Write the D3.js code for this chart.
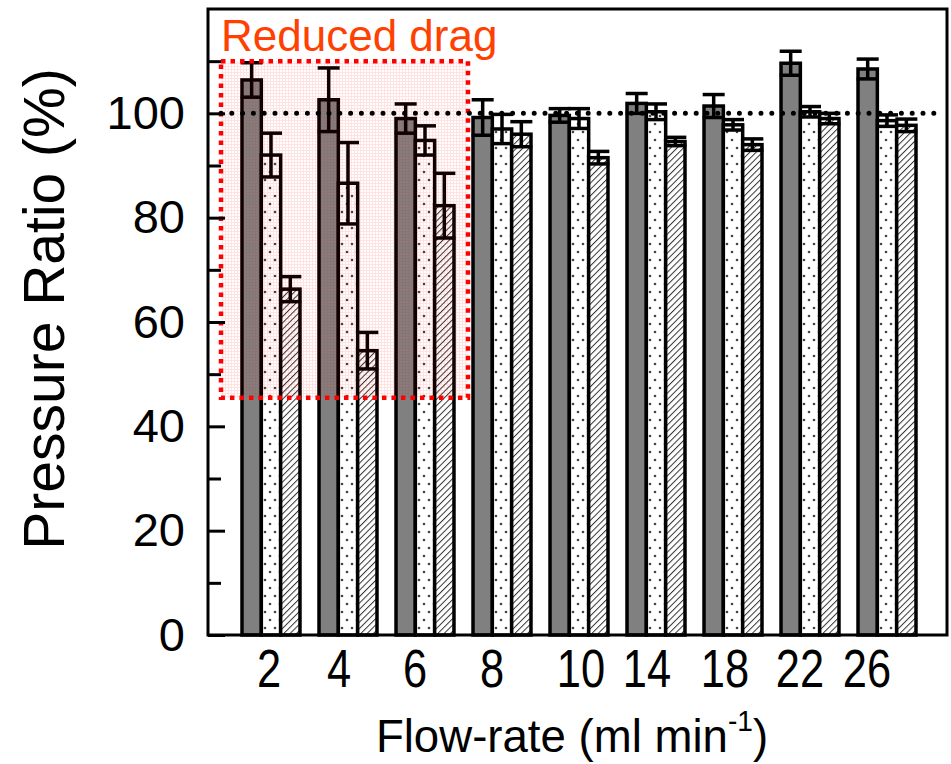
<!DOCTYPE html>
<html>
<head>
<meta charset="utf-8">
<script src="https://cdn.jsdelivr.net/npm/d3@7"></script>
<style>
body { margin: 0; background: #fff; }
text { font-family: "Liberation Sans", Arial, sans-serif; }
</style>
</head>
<body>
<div id="chart"></div>
<script>
// DATA

// Flow-rate categories on the x axis
var flowRates = ["2", "4", "6", "8", "10", "14", "18", "22", "26"];
// Three series per flow-rate (grey, dotted, hatched)
var seriesKeys = ["s1", "s2", "s3"];
var s1Values = [106.4, 102.6, 99.0, 99.2, 99.6, 101.9, 101.4, 109.6, 108.5];
var s1Errors = [3.3, 6.1, 2.8, 3.4, 1.3, 1.9, 2.2, 2.3, 1.9];
var s2Values = [92.0, 86.6, 94.8, 97.0, 99.0, 100.3, 97.8, 100.3, 98.6];
var s2Errors = [4.2, 7.8, 2.8, 2.8, 1.9, 1.5, 1.0, 1.0, 1.1];
var s3Values = [66.3, 54.5, 82.3, 96.0, 91.5, 94.6, 94.0, 99.0, 97.7];
var s3Errors = [2.4, 3.5, 6.2, 2.4, 1.2, 0.8, 1.1, 1.0, 1.2];
// Axis ticks
var yMajorTicks = [0, 20, 40, 60, 80, 100];
var yMinorTicks = [10, 30, 50, 70, 90, 110];
var yDomain = [0, 120];
// Reference line and shaded region
var referenceValue = 100;
var regionTop = 110;
var regionBottom = 45.5;
var regionLabel = "Reduced drag";
// Titles
var yTitle = "Pressure Ratio (%)";
var xTitle = "Flow-rate (ml min";
var xTitleSup = "-1";

// LAYOUT

var width = 951;
var height = 764;
var frame = { left: 208, right: 947, top: 9, bottom: 635 };
// small horizontal nudges of the x tick labels, as placed in the figure
var xLabelNudge = [-2, -9, -10, -10, 2, -9, -8, -10, -20];

var svg = d3
    .select("#chart")
    .append("svg")
    .attr("width", width)
    .attr("height", height);

// Fill patterns
var defs = svg.append("defs");
var dots = defs.append("pattern")
    .attr("id", "dots")
    .attr("patternUnits", "userSpaceOnUse")
    .attr("width", 10)
    .attr("height", 16);
dots.append("rect").attr("width", 10).attr("height", 16).attr("fill", "#fff");
dots.append("circle").attr("cx", 3).attr("cy", 4).attr("r", 1.3).attr("fill", "#444");
dots.append("circle").attr("cx", 8).attr("cy", 12).attr("r", 1.3).attr("fill", "#444");

var hatch = defs.append("pattern")
    .attr("id", "hatch")
    .attr("patternUnits", "userSpaceOnUse")
    .attr("width", 4.5)
    .attr("height", 4.5)
    .attr("patternTransform", "rotate(45)");
hatch.append("rect").attr("width", 4.5).attr("height", 4.5).attr("fill", "#fff");
hatch.append("line")
    .attr("x1", 0).attr("y1", 0).attr("x2", 0).attr("y2", 4.5)
    .attr("stroke", "#333").attr("stroke-width", 2);

var pinkGrid = defs.append("pattern")
    .attr("id", "pinkGrid")
    .attr("patternUnits", "userSpaceOnUse")
    .attr("width", 3)
    .attr("height", 3);
pinkGrid.append("rect").attr("width", 3).attr("height", 1).attr("fill", "rgba(255,0,0,0.11)");
pinkGrid.append("rect").attr("y", 1).attr("width", 1).attr("height", 2).attr("fill", "rgba(255,0,0,0.11)");

var seriesFill = { s1: "#808080", s2: "url(#dots)", s3: "url(#hatch)" };

// SCALES

var x0 = d3.scaleBand()
    .domain(flowRates)
    .range([242, 916])
    .paddingInner(0.247)
    .paddingOuter(0);
var x1 = d3.scaleBand()
    .domain(seriesKeys)
    .range([0, x0.bandwidth()])
    .padding(0);
var y = d3.scaleLinear()
    .domain(yDomain)
    .range([frame.bottom, frame.top]);

// table of bars built from the arrays
var valueArrays = { s1: s1Values, s2: s2Values, s3: s3Values };
var errorArrays = { s1: s1Errors, s2: s2Errors, s3: s3Errors };
var table = flowRates.map(function(rate, i) {
    return {
        rate: rate,
        bars: seriesKeys.map(function(k) {
            return { key: k, value: valueArrays[k][i], err: errorArrays[k][i] };
        })
    };
});

// BARS

var groups = svg.selectAll("g.group")
    .data(table)
    .enter()
    .append("g")
    .attr("class", "group")
    .attr("transform", function(d) { return "translate(" + x0(d.rate) + ",0)"; });

groups.selectAll("rect")
    .data(function(d) { return d.bars; })
    .enter()
    .append("rect")
    .attr("x", function(d) { return x1(d.key); })
    .attr("y", function(d) { return y(d.value); })
    .attr("width", x1.bandwidth())
    .attr("height", function(d) { return y(0) - y(d.value); })
    .attr("fill", function(d) { return seriesFill[d.key]; })
    .attr("stroke", "#000")
    .attr("stroke-width", 3.5);

// Error bars
var capW = 22;
var errs = groups.selectAll("g.err")
    .data(function(d) { return d.bars; })
    .enter()
    .append("g")
    .attr("class", "err")
    .attr("stroke", "#000")
    .attr("stroke-width", 3.5);
errs.append("line")
    .attr("x1", function(d) { return x1(d.key) + x1.bandwidth() / 2; })
    .attr("x2", function(d) { return x1(d.key) + x1.bandwidth() / 2; })
    .attr("y1", function(d) { return y(d.value + d.err); })
    .attr("y2", function(d) { return y(d.value - d.err); });
errs.append("line")
    .attr("x1", function(d) { return x1(d.key) + x1.bandwidth() / 2 - capW / 2; })
    .attr("x2", function(d) { return x1(d.key) + x1.bandwidth() / 2 + capW / 2; })
    .attr("y1", function(d) { return y(d.value + d.err); })
    .attr("y2", function(d) { return y(d.value + d.err); });
errs.append("line")
    .attr("x1", function(d) { return x1(d.key) + x1.bandwidth() / 2 - capW / 2; })
    .attr("x2", function(d) { return x1(d.key) + x1.bandwidth() / 2 + capW / 2; })
    .attr("y1", function(d) { return y(d.value - d.err); })
    .attr("y2", function(d) { return y(d.value - d.err); });

// REDUCED DRAG REGION

var regionX0 = x0(flowRates[0]) - 21;
var regionX1 = x0(flowRates[2]) + x0.bandwidth() + 14;
svg.append("rect")
    .attr("x", regionX0)
    .attr("y", y(regionTop))
    .attr("width", regionX1 - regionX0)
    .attr("height", y(regionBottom) - y(regionTop))
    .attr("fill", "url(#pinkGrid)")
    .attr("stroke", "#ff0000")
    .attr("stroke-width", 4.5)
    .attr("stroke-dasharray", "4.5,5");

svg.append("text")
    .attr("x", regionX0)
    .attr("y", 51)
    .attr("font-size", 44)
    .attr("fill", "#ff4000")
    .text(regionLabel);

// Reference line at 100 %
svg.append("line")
    .attr("x1", 221)
    .attr("x2", 938)
    .attr("y1", y(referenceValue))
    .attr("y2", y(referenceValue))
    .attr("stroke", "#000")
    .attr("stroke-width", 5)
    .attr("stroke-linecap", "round")
    .attr("stroke-dasharray", "0,10.8");

// AXES

var yAxis = d3.axisLeft(y)
    .tickValues(yMajorTicks)
    .tickSize(-17)
    .tickPadding(23)
    .tickFormat(d3.format("d"));
var yAxisG = svg.append("g")
    .attr("transform", "translate(" + frame.left + ",0)")
    .call(yAxis);
yAxisG.select(".domain").remove();
yAxisG.selectAll("line").attr("stroke-width", 3);
yAxisG.selectAll("text")
    .attr("font-size", 47)
    .attr("font-family", "Liberation Sans, Arial, sans-serif")
    .attr("fill", "#000");

var yMinor = d3.axisLeft(y)
    .tickValues(yMinorTicks)
    .tickSize(-13)
    .tickFormat("");
var yMinorG = svg.append("g")
    .attr("transform", "translate(" + frame.left + ",0)")
    .call(yMinor);
yMinorG.select(".domain").remove();
yMinorG.selectAll("line").attr("stroke-width", 3);

var xAxis = d3.axisBottom(x0)
    .tickSize(0)
    .tickPadding(14);
var xAxisG = svg.append("g")
    .attr("transform", "translate(0," + frame.bottom + ")")
    .call(xAxis);
xAxisG.select(".domain").remove();
xAxisG.selectAll("text")
    .attr("font-size", 53)
    .attr("font-family", "Liberation Sans, Arial, sans-serif")
    .attr("fill", "#000")
    .attr("transform", function(d, i) {
        return "translate(" + xLabelNudge[i] + ",0) scale(0.82,1)";
    });

// Frame
svg.append("rect")
    .attr("x", frame.left)
    .attr("y", frame.top)
    .attr("width", frame.right - frame.left)
    .attr("height", frame.bottom - frame.top)
    .attr("fill", "none")
    .attr("stroke", "#000")
    .attr("stroke-width", 3);

// Titles
svg.append("text")
    .attr("transform", "translate(64," + 309 + ") rotate(-90)")
    .attr("text-anchor", "middle")
    .attr("font-size", 57)
    .text(yTitle);

var xt = svg.append("text")
    .attr("transform", "translate(572,752) scale(0.97,1)")
    .attr("text-anchor", "middle")
    .attr("font-size", 47);
xt.append("tspan").text(xTitle);
xt.append("tspan").attr("font-size", 29).attr("dy", -21).text(xTitleSup);
xt.append("tspan").attr("dy", 21).text(")");
</script>
</body>
</html>
